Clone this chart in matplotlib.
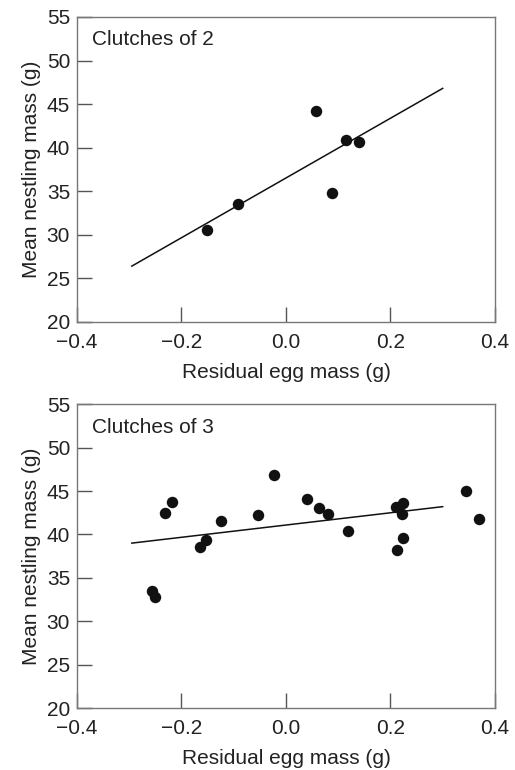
import numpy as np
import matplotlib
matplotlib.use('Agg')
import matplotlib.pyplot as plt

plt.rcParams['font.family'] = ['Liberation Sans', 'DejaVu Sans']

# clutches of 2
x2 = [-0.151, -0.092, 0.057, 0.114, 0.140, 0.089]
y2 = [30.5, 33.5, 44.2, 40.9, 40.7, 34.8]
fit2_x = [-0.295, 0.300]
fit2_y = [26.4, 46.8]

# clutches of 3
x3 = [-0.257, -0.250, -0.232, -0.218, -0.164, -0.154, -0.125, -0.054, -0.022,
      0.041, 0.064, 0.080, 0.119, 0.211, 0.225, 0.222, 0.225, 0.213, 0.344, 0.369]
y3 = [33.5, 32.8, 42.5, 43.7, 38.5, 39.4, 41.5, 42.2, 46.8,
      44.1, 43.0, 42.4, 40.4, 43.2, 43.6, 42.3, 39.6, 38.2, 45.0, 41.8]
fit3_x = [-0.295, 0.300]
fit3_y = [39.0, 43.2]

xticks = [-0.4, -0.2, 0.0, 0.2, 0.4]
xticklabels = ['\u22120.4', '\u22120.2', '0.0', '0.2', '0.4']
yticks = [20, 25, 30, 35, 40, 45, 50, 55]

fig = plt.figure(figsize=(5.15, 7.70), dpi=100)
ax1 = fig.add_axes([0.1495, 0.582, 0.8115, 0.396])
ax2 = fig.add_axes([0.1495, 0.0805, 0.8115, 0.3945])

panels = [(ax1, x2, y2, fit2_x, fit2_y, 'Clutches of 2'),
          (ax2, x3, y3, fit3_x, fit3_y, 'Clutches of 3')]

for ax, xs, ys, fx, fy, title in panels:
    ax.plot(fx, fy, color='#111111', lw=1.1, zorder=2)
    ax.scatter(xs, ys, s=68, color='#111111', zorder=3, linewidths=0)
    ax.set_xlim(-0.4, 0.4)
    ax.set_ylim(20, 55)
    ax.set_xticks(xticks)
    ax.set_xticklabels(xticklabels)
    ax.set_yticks(yticks)
    ax.tick_params(direction='in', length=10.5, width=1.0, color='#555555',
                   labelsize=15, labelcolor='#222222')
    ax.tick_params(axis='x', pad=8)
    ax.tick_params(axis='y', pad=5)
    for sp in ax.spines.values():
        sp.set_color('#777777')
        sp.set_linewidth(1.0)
    ax.set_xlabel('Residual egg mass (g)', fontsize=15, color='#222222', labelpad=8)
    ax.set_ylabel('Mean nestling mass (g)', fontsize=15, color='#222222', labelpad=4)
    ax.text(0.036, 0.925, title, transform=ax.transAxes, fontsize=15,
            color='#222222', ha='left', va='center')

fig.savefig('out.png', dpi=100)
